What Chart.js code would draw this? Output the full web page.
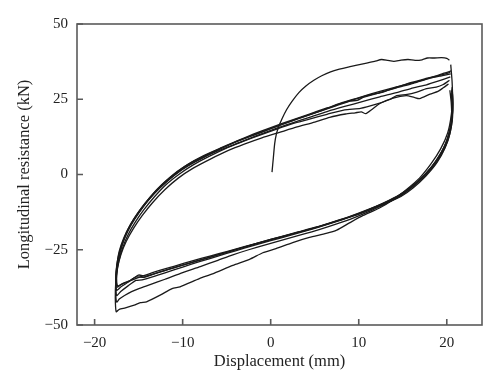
<!DOCTYPE html>
<html>
<head>
<meta charset="utf-8">
<script src="https://cdn.jsdelivr.net/npm/chart.js@4/dist/chart.umd.min.js"></script>
<style>
html,body{margin:0;padding:0;background:#fff;}
#wrap{width:500px;height:389px;position:relative;}
</style>
</head>
<body>
<div id="wrap"><canvas id="c"></canvas></div>
<script>
// Tick labels
const xTicks = [-20, -10, 0, 10, 20];
const yTicks = [-50, -25, 0, 25, 50];

// Initial (virgin) loading curve
const virginX = [0.15,0.3,0.45,0.65,0.9,1.3,1.8,2.4,3.2,4.0,4.9,5.8,6.8,7.8,8.8,9.8,10.9,11.8,12.6,13.3,14.0,14.8,15.6,16.4,17.2,17.8,18.6,19.4,20.0,20.3];
const virginY = [0.8,5.5,10.2,13.5,15.8,18.6,21.5,24.2,27.2,29.4,31.3,32.8,34.1,35.0,35.7,36.3,37.0,37.6,38.2,37.9,37.6,38.0,38.2,37.9,38.1,38.7,38.7,38.8,38.6,38.0];

// Cycle A
const loopAX = [20.45,20.6,20.65,20.5,20.1,19.3,18.2,16.9,15.5,14.0,12.3,10.5,9.0,7.5,6.3,4.4,2.5,0.6,-0.9,-2.4,-4.3,-6.6,-8.1,-10.3,-11.2,-12.5,-14.1,-14.8,-15.5,-16.5,-17.2,-17.55,
  -17.65,-17.6,-17.4,-17.0,-16.4,-15.6,-14.6,-13.4,-12.0,-10.5,-8.8,-6.8,-4.8,
  -3.0,-1.0,1.0,3.0,5.0,6.7,8.5,9.6,10.3,10.8,11.5,12.4,13.9,15.4,16.3,16.9,18.1,19.0,19.6,20.2];
const loopAY = [36.5,31,25,19.5,13.8,8.5,3.5,-1.2,-4.8,-8.2,-11.2,-13.6,-16.0,-18.5,-19.6,-20.9,-22.6,-24.6,-26.0,-28.2,-30.2,-33.0,-34.6,-37.3,-37.9,-40.0,-42.3,-42.6,-43.4,-44.3,-44.8,-45.6,
  -41,-36,-31,-26.5,-22.2,-18.0,-13.7,-9.3,-5.0,-1.2,2.1,5.2,8.0,
  10.1,12.2,14.0,15.8,17.4,19.0,20.1,20.5,20.8,20.2,21.6,23.6,25.4,26.2,25.6,25.2,26.7,27.6,28.8,30.1];

// Cycle B
const loopBX = [20.35,20.5,20.55,20.4,19.9,19.0,17.8,16.4,15.0,13.3,11.4,9.5,7.5,5.5,3.5,1.5,-0.5,-2.5,-4.3,-6.0,-8.0,-10.0,-12.0,-13.7,-14.9,-15.8,-16.6,-17.2,-17.5,
  -17.6,-17.5,-17.25,-16.8,-16.2,-15.4,-14.4,-13.2,-11.9,-10.4,-8.8,-7.0,-5.1,
  -3.2,-1.3,0.6,2.5,4.4,6.4,8.4,10.2,12.0,13.6,14.3,15.5,16.6,17.7,18.8,19.6,20.3];
const loopBY = [28,24,20,15.5,10.5,5.5,0.8,-3.3,-6.6,-9.4,-12.0,-14.3,-16.4,-18.3,-20.0,-21.6,-23.3,-25.0,-26.7,-28.5,-30.6,-32.6,-34.8,-36.6,-37.8,-38.9,-40.2,-41.4,-42.4,
  -38.5,-33.5,-28.8,-24.2,-20.0,-15.9,-11.7,-7.4,-3.4,0.1,3.2,6.0,8.7,
  10.9,13.0,15.0,16.9,18.4,20.0,21.5,22.0,23.4,25.0,26.2,26.6,27.4,28.5,29.0,29.9,31.3];

// Cycle C
const loopCX = [20.5,20.6,20.6,20.35,19.8,18.9,17.6,16.2,14.8,13.0,11.0,9.0,7.0,5.0,3.0,1.0,-1.0,-3.0,-5.0,-7.0,-9.0,-11.0,-13.0,-14.6,-15.3,-16.2,-17.0,-17.5,
  -17.6,-17.45,-17.1,-16.6,-15.9,-15.0,-13.9,-12.6,-11.1,-9.5,-7.6,-5.6,
  -3.6,-1.6,0.4,2.4,4.4,6.4,8.4,10.4,12.4,14.3,16.2,17.7,19.0,20.4];
const loopCY = [27,22.5,18,13.5,8.8,4.0,-0.6,-4.4,-7.3,-9.7,-12.1,-14.2,-16.1,-17.9,-19.6,-21.2,-22.8,-24.5,-26.2,-28.0,-29.8,-31.7,-33.6,-35.0,-35.2,-37.0,-38.8,-40.2,
  -35.5,-30.5,-25.8,-21.3,-17.0,-12.8,-8.6,-4.5,-0.6,2.8,5.8,8.3,
  10.6,12.9,15.1,17.1,19.0,20.9,22.6,24.2,25.8,27.2,28.8,29.8,31.0,32.4];

// Cycle D
const loopDX = [20.55,20.65,20.6,20.3,19.7,18.7,17.4,16.0,14.5,12.8,11.0,9.0,7.0,5.0,3.0,1.0,-1.0,-3.0,-5.0,-7.0,-9.0,-11.0,-12.8,-14.4,-15.3,-16.2,-17.0,-17.5,
  -17.6,-17.5,-17.2,-16.8,-16.2,-15.4,-14.4,-13.2,-11.8,-10.3,-8.5,-6.6,-4.6,
  -2.6,-0.6,1.4,3.4,5.4,7.4,9.0,9.8,10.5,12.4,14.3,16.2,18.1,19.4,20.45];
const loopDY = [28,23,18.5,14,9.2,4.2,-0.3,-4.0,-7.0,-9.6,-11.8,-14.0,-15.9,-17.7,-19.3,-20.8,-22.4,-24.1,-25.8,-27.6,-29.3,-31.0,-32.6,-34.2,-34.0,-35.8,-37.3,-38.5,
  -34.5,-30.5,-26.0,-22.4,-18.4,-14.5,-10.4,-6.2,-2.3,1.1,4.3,7.2,10.0,
  12.4,14.6,16.8,18.8,20.8,22.8,24.4,24.6,25.6,27.2,28.8,30.3,32.0,32.8,33.4];

// Cycle E
const loopEX = [20.6,20.7,20.65,20.4,19.9,19.0,17.8,16.4,14.9,13.2,11.4,9.4,7.4,5.4,3.4,1.4,-0.6,-2.6,-4.6,-6.6,-8.6,-10.6,-12.5,-14.2,-15.0,-16.0,-16.9,-17.45,
  -17.55,-17.45,-17.2,-16.7,-16.0,-15.1,-14.0,-12.8,-11.4,-9.8,-8.0,-6.0,-4.0,
  -2.0,0.0,2.0,4.0,6.0,8.0,10.0,11.5,12.5,14.3,16.0,17.5,18.6,19.6,20.5];
const loopEY = [28.5,23.5,18.8,14.2,9.6,4.8,0.4,-3.4,-6.6,-9.2,-11.4,-13.7,-15.6,-17.4,-19.0,-20.6,-22.2,-23.8,-25.5,-27.2,-28.9,-30.6,-32.3,-33.8,-33.4,-35.3,-36.4,-37.4,
  -33.5,-29.5,-25.5,-21.2,-17.0,-12.8,-8.6,-4.6,-0.8,2.6,5.5,8.3,10.8,
  13.0,15.2,17.4,19.5,21.5,23.6,25.4,26.6,27.2,29.0,30.6,31.8,32.6,33.6,34.4];

// Cycle F
const loopFX = [20.6,20.7,20.6,20.3,19.8,18.8,17.5,16.1,14.6,12.9,11.1,9.1,7.1,5.1,3.1,1.1,-0.9,-2.9,-4.9,-6.9,-8.9,-10.9,-12.8,-14.4,-15.7,-16.7,-17.4,
  -17.5,-17.35,-17.0,-16.5,-15.8,-14.8,-13.7,-12.4,-11.0,-9.4,-7.6,-5.6,
  -3.6,-1.6,0.4,2.4,4.4,6.4,8.4,10.4,12.4,14.3,16.2,18.1,19.3,20.4];
const loopFY = [29,24,19,14.2,9.4,4.4,-0.1,-3.8,-6.8,-9.3,-11.6,-13.8,-15.7,-17.5,-19.1,-20.7,-22.3,-23.9,-25.5,-27.1,-28.7,-30.4,-32.0,-33.6,-35.0,-36.1,-37.0,
  -33.0,-28.8,-24.5,-20.2,-16.0,-11.6,-7.5,-3.5,0.0,3.4,6.3,8.9,
  11.4,13.8,16.0,18.1,20.1,22.1,24.1,25.9,27.6,29.1,30.5,32.1,33.0,33.9];

const curves = [
  [virginX, virginY],
  [loopAX, loopAY],
  [loopBX, loopBY],
  [loopCX, loopCY],
  [loopDX, loopDY],
  [loopEX, loopEY],
  [loopFX, loopFY]
];

const datasets = curves.map(([xs, ys]) => ({
  data: xs.map((x, i) => ({x: x, y: ys[i]})),
  showLine: true,
  borderColor: '#1a1a1a',
  borderWidth: 1.3,
  pointRadius: 0,
  tension: 0.2,
  fill: false
}));

const frameColor = '#5a5a5a';
const framePlugin = {
  id: 'frame',
  afterDraw(chart) {
    const {ctx, chartArea: a, scales: {x, y}} = chart;
    ctx.save();
    ctx.strokeStyle = frameColor;
    ctx.lineWidth = 1.6;
    ctx.strokeRect(a.left, a.top, a.right - a.left, a.bottom - a.top);
    ctx.beginPath();
    xTicks.forEach(v => { const px = x.getPixelForValue(v); ctx.moveTo(px, a.bottom); ctx.lineTo(px, a.bottom - 6); });
    yTicks.forEach(v => { const py = y.getPixelForValue(v); ctx.moveTo(a.left, py); ctx.lineTo(a.left + 6, py); });
    ctx.stroke();
    ctx.restore();
  }
};

const fmt = v => (v < 0 ? '\u2212' + Math.abs(v) : String(v));
const tickFont = {family: '"Liberation Serif", "Times New Roman", serif', size: 15};
const titleFont = {family: '"Liberation Serif", "Times New Roman", serif', size: 16.5};

new Chart(document.getElementById('c'), {
  type: 'scatter',
  data: {datasets},
  options: {
    responsive: true,
    maintainAspectRatio: false,
    animation: false,
    devicePixelRatio: 1,
    layout: {padding: {top: 24, right: 18, left: 0, bottom: 0}},
    plugins: {legend: {display: false}, tooltip: {enabled: false}},
    scales: {
      x: {
        type: 'linear', min: -22, max: 24,
        afterBuildTicks: s => { s.ticks = xTicks.map(v => ({value: v})); },
        afterFit: s => { s.height = 64; },
        grid: {display: false, drawTicks: false},
        border: {display: false},
        ticks: {callback: fmt, color: '#222', font: tickFont, padding: 9, maxRotation: 0},
        title: {display: true, text: 'Displacement (mm)', color: '#222', font: titleFont, padding: {top: 0, bottom: 17}}
      },
      y: {
        type: 'linear', min: -50, max: 50,
        afterBuildTicks: s => { s.ticks = yTicks.map(v => ({value: v})); },
        afterFit: s => { s.width = 77; },
        grid: {display: false, drawTicks: false},
        border: {display: false},
        ticks: {callback: fmt, color: '#222', font: tickFont, padding: 9},
        title: {display: true, text: 'Longitudinal resistance (kN)', color: '#222', font: titleFont, padding: {top: 15, bottom: 0}}
      }
    }
  },
  plugins: [framePlugin]
});
</script>
</body>
</html>
